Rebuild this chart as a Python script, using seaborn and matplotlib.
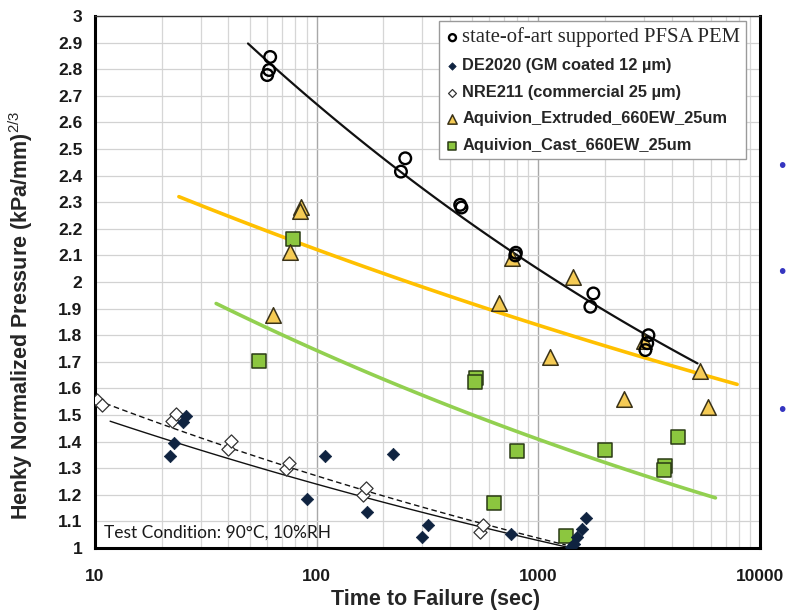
import numpy as np
import matplotlib
matplotlib.use("Agg")
import matplotlib.pyplot as plt
from matplotlib.ticker import FixedLocator, FuncFormatter, LogLocator, NullFormatter
import seaborn as sns

# ---- measured data ----------------------------------------------------
state_t = [59.8, 61.0, 61.7, 240, 251, 444, 450, 787, 792, 1717, 1771, 3041, 3100, 3139]
state_p = [2.778, 2.797, 2.846, 2.415, 2.465, 2.29, 2.28, 2.10, 2.11, 1.907, 1.957, 1.744, 1.77, 1.80]

de2020_t = [21.8, 22.7, 24.9, 25.7, 90.3, 109.2, 168.5, 219.9, 298.5, 317.7, 755,
            1400, 1443, 1495, 1575, 1648]
de2020_p = [1.346, 1.394, 1.472, 1.496, 1.184, 1.346, 1.136, 1.353, 1.043, 1.086, 1.053,
            1.005, 1.015, 1.043, 1.071, 1.112]

nre211_t = [10.2, 10.8, 22.2, 23.2, 40.0, 41.1, 72.8, 75.4, 161, 166.7, 547, 562]
nre211_p = [1.556, 1.538, 1.477, 1.503, 1.372, 1.402, 1.296, 1.318, 1.199, 1.224, 1.061, 1.086]

extruded_t = [85.1, 84.4, 75.9, 63.5, 760, 1435, 667, 1133, 2988, 5385, 2428, 5812]
extruded_p = [2.283, 2.267, 2.114, 1.876, 2.089, 2.02, 1.92, 1.717, 1.778, 1.665, 1.559, 1.531]

cast_t = [78.6, 55.2, 525, 520, 801, 628, 1337, 1991, 3741, 3680, 4255]
cast_p = [2.16, 1.704, 1.638, 1.625, 1.365, 1.168, 1.046, 1.368, 1.308, 1.293, 1.418]

# power-law trend lines  p = a * t**b, drawn over [t_start, t_end]
fit_state = (4.53, -0.1149, 49, 5224)
fit_extruded = (2.83, -0.0625, 23.9, 7888)
fit_cast = (2.667, -0.0924, 35.2, 6295)
fit_de2020 = (1.804, -0.0814, 11.7, 1330)
fit_nre211 = (1.91, -0.0884, 10.2, 1330)

labels = ["state-of-art supported PFSA PEM", "DE2020 (GM coated 12 µm)",
          "NRE211 (commercial 25 µm)", "Aquivion_Extruded_660EW_25um",
          "Aquivion_Cast_660EW_25um"]
y_ticks = [1.0, 1.1, 1.2, 1.3, 1.4, 1.5, 1.6, 1.7, 1.8, 1.9, 2.0,
           2.1, 2.2, 2.3, 2.4, 2.5, 2.6, 2.7, 2.8, 2.9, 3.0]
x_ticks = [10, 100, 1000, 10000]

# ---- styling ------------------------------------------------------------
sns.set_style("white")
plt.rcParams["font.family"] = ["Liberation Sans", "DejaVu Sans"]
plt.rcParams["mathtext.fontset"] = "custom"
plt.rcParams["mathtext.rm"] = "Liberation Sans"
plt.rcParams["mathtext.it"] = "Liberation Sans"
plt.rcParams["mathtext.bf"] = "Liberation Sans:bold"

fig = plt.figure(figsize=(7.88, 6.10), dpi=100)
ax = fig.add_axes([95 / 788, 1 - 548 / 610, 665 / 788, 532 / 610])
ax.set_xscale("log")
ax.set_xlim(10, 10000)
ax.set_ylim(1, 3)


def trend(coef, color, ls="-", lw=1.3):
    a, b, t0, t1 = coef
    t = np.geomspace(t0, t1, 80)
    sns.lineplot(x=t, y=a * t ** b, ax=ax, color=color, lw=lw, ls=ls,
                 legend=False, zorder=3)


trend(fit_state, "#111111", lw=1.6)
trend(fit_extruded, "#ffc000", lw=2.6)
trend(fit_cast, "#92d050", lw=2.6)
trend(fit_de2020, "#111111", lw=1.0)
trend(fit_nre211, "#111111", ls=(0, (4, 2.5)), lw=1.0)

sns.scatterplot(x=cast_t, y=cast_p, ax=ax, marker="s", s=95, color="#8cc63f",
                edgecolor="#2a3a14", linewidth=1.1, label=labels[4], zorder=4)
sns.scatterplot(x=extruded_t, y=extruded_p, ax=ax, marker="^", s=125, color="#f5cb55",
                edgecolor="#3a3218", linewidth=1.1, label=labels[3], zorder=4)
sns.scatterplot(x=nre211_t, y=nre211_p, ax=ax, marker="D", s=45, color="white",
                edgecolor="#333333", linewidth=0.9, label=labels[2], zorder=5)
sns.scatterplot(x=de2020_t, y=de2020_p, ax=ax, marker="D", s=40, color="#0f2340",
                edgecolor="#0f2340", linewidth=0.5, label=labels[1], zorder=5)
sns.scatterplot(x=state_t, y=state_p, ax=ax, marker="o", s=70, facecolor="none",
                edgecolor="black", linewidth=1.7, label=labels[0], zorder=6)

# grid
ax.xaxis.set_major_locator(FixedLocator(x_ticks))
ax.xaxis.set_minor_locator(LogLocator(base=10, subs=np.arange(2, 10)))
ax.xaxis.set_minor_formatter(NullFormatter())
ax.xaxis.set_major_formatter(FuncFormatter(lambda v, p: f"{v:g}"))
ax.yaxis.set_major_locator(FixedLocator(y_ticks))
ax.yaxis.set_major_formatter(FuncFormatter(lambda v, p: f"{v:g}"))
ax.grid(which="major", axis="y", color="#d2d2d2", lw=0.9)
ax.grid(which="minor", axis="x", color="#d6d6d6", lw=0.9)
ax.grid(which="major", axis="x", color="#a8a8a8", lw=1.0)
ax.set_axisbelow(True)

for side in ["left", "bottom", "right"]:
    ax.spines[side].set_color("black")
    ax.spines[side].set_linewidth(2.2)
ax.spines["top"].set_color("#333333")
ax.spines["top"].set_linewidth(1.0)

ax.tick_params(axis="both", which="major", direction="out", length=5, width=1.0,
               color="#555555", labelsize=12.5, pad=4)
ax.tick_params(axis="x", which="minor", length=0)
for lab in ax.get_xticklabels() + ax.get_yticklabels():
    lab.set_fontweight("bold")
    lab.set_color("#1a1a1a")
ax.tick_params(axis="x", pad=10)

ax.set_xlabel("Time to Failure (sec)", fontsize=15.5, fontweight="bold")
ax.xaxis.set_label_coords(0.512, -0.077)
ax.set_ylabel(r"Henky Normalized Pressure (kPa/mm)$^{2/3}$", fontsize=15.5,
              fontweight="bold")
ax.yaxis.set_label_coords(-0.09, 0.438)

ax.text(0.013, 0.02, "Test Condition: 90°C, 10%RH", transform=ax.transAxes,
        fontsize=12.5, family=["Lato", "DejaVu Sans"], color="#1a1a1a",
        va="baseline", ha="left")

# legend
handles, labs = ax.get_legend_handles_labels()
order = [labs.index(l) for l in labels]
leg = ax.legend([handles[i] for i in order], [labs[i] for i in order],
                loc="upper right", bbox_to_anchor=(0.979, 0.99), frameon=True,
                fancybox=False, edgecolor="#9a9a9a", framealpha=1,
                prop={"weight": "bold", "size": 11.8}, markerscale=0.6,
                handletextpad=0.1, handlelength=1.0, labelspacing=0.7,
                borderpad=0.35, borderaxespad=0)
leg.get_frame().set_linewidth(1.0)
first = leg.get_texts()[0]
first.set_fontfamily(["Liberation Serif", "DejaVu Serif"])
first.set_fontweight("normal")
first.set_fontsize(14.9)

# bullets of the adjacent slide text
for yb in (167, 272, 410):
    fig.text(782 / 788, 1 - yb / 610, "•", color="#3535c0", fontsize=15,
             ha="center", va="center")

fig.savefig("out.png", dpi=100)
